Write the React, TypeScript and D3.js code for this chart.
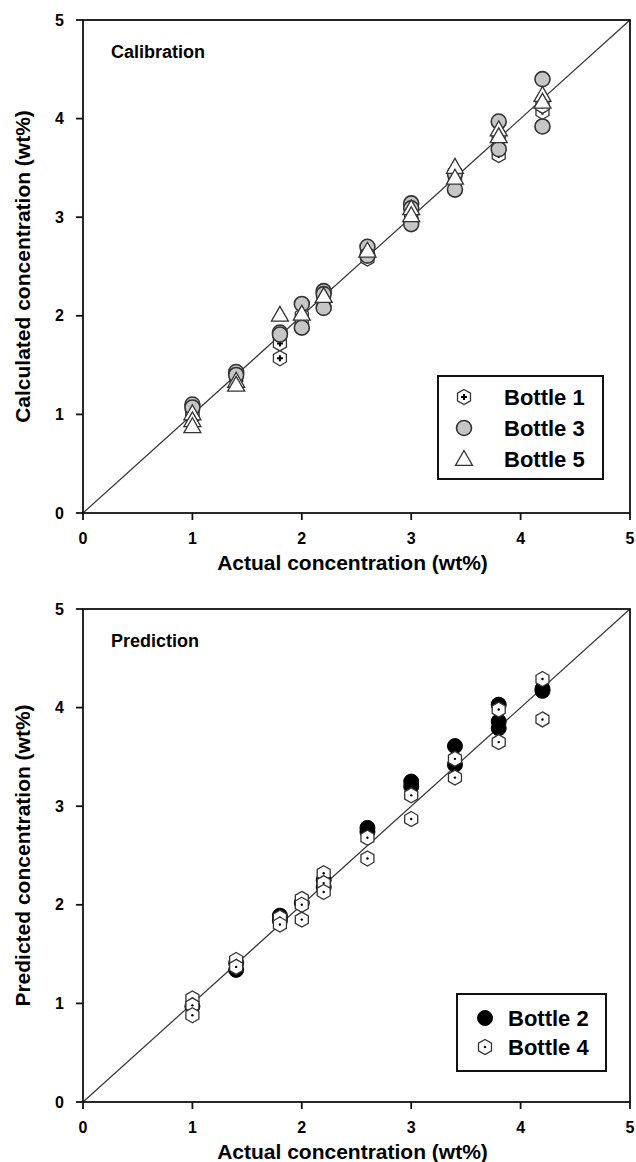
import React from 'react';
import * as d3 from 'd3';

// actual concentrations (wt%) shared by all bottles
const ACTUAL = [1.0, 1.4, 1.8, 2.0, 2.2, 2.6, 3.0, 3.4, 3.8, 4.2];
const TICKS = [0, 1, 2, 3, 4, 5];

// calibration set, calculated values per actual concentration
const bottle1 = [[1.02, 0.98], [1.40, 1.37], [1.72, 1.57], [2.00, 1.95], [2.20, 2.15], [2.58, 2.62], [3.00, 2.96], [3.45, 3.38], [3.81, 3.63], [4.07, 4.13]];
const bottle3 = [[1.10, 1.07], [1.43, 1.40], [1.83, 1.81], [2.12, 1.88], [2.25, 2.22, 2.08], [2.70, 2.61], [3.14, 3.09, 2.93], [3.44, 3.28], [3.97, 3.69], [4.40, 3.92]];
const bottle5 = [[1.01, 0.94, 0.88], [1.34, 1.30], [2.01], [2.02], [2.20], [2.66], [3.09, 3.02], [3.51, 3.40], [3.89, 3.82], [4.24, 4.17]];

// prediction set
const bottle2 = [[0.97], [1.41, 1.34], [1.89, 1.84], [2.02], [2.25, 2.18], [2.78, 2.74], [3.25, 3.20], [3.61, 3.42], [4.03, 3.86, 3.79], [4.19, 4.17]];
const bottle4 = [[1.05, 0.98, 0.88], [1.44, 1.37], [1.87, 1.80], [2.06, 2.00, 1.85], [2.32, 2.22, 2.13], [2.68, 2.47], [3.11, 2.87], [3.48, 3.29], [3.98, 3.65], [4.29, 3.88]];

const FONT = '"Liberation Sans", Arial, sans-serif';
const W = 636;
const H = 1162;
const LEFT = 83;
const RIGHT = 630;

type Kind = 'hexPlus' | 'grayCircle' | 'triangle' | 'blackCircle' | 'hexDot';

const hexPath = (r: number) => {
  const pts = d3.range(6).map(i => {
    const a = -Math.PI / 2 + (i * Math.PI) / 3;
    return [r * Math.cos(a), r * Math.sin(a)];
  });
  return 'M' + pts.map(p => p.join(',')).join('L') + 'Z';
};

const Marker = ({ kind, x, y }: { kind: Kind; x: number; y: number }) => {
  const t = `translate(${x},${y})`;
  if (kind === 'grayCircle') return <circle transform={t} r={7.5} fill="#c6c6c6" stroke="#333" strokeWidth={1.6} />;
  if (kind === 'blackCircle') return <circle transform={t} r={7.5} fill="#000" stroke="#000" strokeWidth={1} />;
  if (kind === 'triangle') {
    const s = 8.5;
    return <path transform={t} d={`M0,${-s}L${s},${s * 0.75}L${-s},${s * 0.75}Z`} fill="#fff" stroke="#333" strokeWidth={1.3} />;
  }
  if (kind === 'hexPlus') {
    return (
      <g transform={t}>
        <path d={hexPath(7.5)} fill="#fff" stroke="#333" strokeWidth={1.3} />
        <path d="M-3,0H3M0,-3V3" stroke="#000" strokeWidth={2} />
      </g>
    );
  }
  return (
    <g transform={t}>
      <path d={hexPath(7.5)} fill="#fff" stroke="#333" strokeWidth={1.3} />
      <circle r={1.2} fill="#000" />
    </g>
  );
};

type Series = { name: string; kind: Kind; values: number[][] };

const Panel = ({ top, bottom, title, yLabel, series, legend }: {
  top: number; bottom: number; title: string; yLabel: string; series: Series[];
  legend: { x0: number; x1: number; y0: number; y1: number; symX: number; textX: number; rows: number[] };
}) => {
  const x = d3.scaleLinear().domain([0, 5]).range([LEFT, RIGHT]);
  const y = d3.scaleLinear().domain([0, 5]).range([bottom, top]);
  const mid = (top + bottom) / 2;
  return (
    <g>
      <line x1={x(0)} y1={y(0)} x2={x(5)} y2={y(5)} stroke="#333" strokeWidth={1.2} />
      {series.map(s => (
        <g key={s.name}>
          {s.values.flatMap((vals, i) => vals.map((v, j) => (
            <Marker key={`${i}-${j}`} kind={s.kind} x={x(ACTUAL[i])} y={y(v)} />
          )))}
        </g>
      ))}
      <rect x={LEFT} y={top} width={RIGHT - LEFT} height={bottom - top} fill="none" stroke="#111" strokeWidth={1.8} />
      {TICKS.map(t => (
        <g key={t}>
          <line x1={x(t)} x2={x(t)} y1={bottom} y2={bottom + 7} stroke="#111" strokeWidth={1.8} />
          <text x={x(t)} y={bottom + 25} textAnchor="middle" dominantBaseline="central" fontSize={16} fontWeight="bold">{t}</text>
          <line x1={LEFT - 7} x2={LEFT} y1={y(t)} y2={y(t)} stroke="#111" strokeWidth={1.8} />
          <text x={LEFT - 19} y={y(t)} textAnchor="end" dominantBaseline="central" fontSize={16} fontWeight="bold">{t}</text>
        </g>
      ))}
      <text x={(LEFT + RIGHT) / 2 - 4} y={bottom + 49} textAnchor="middle" dominantBaseline="central" fontSize={21} fontWeight="bold">
        Actual concentration (wt%)
      </text>
      <text transform={`translate(22,${mid}) rotate(-90)`} textAnchor="middle" dominantBaseline="central" fontSize={21} fontWeight="bold">
        {yLabel}
      </text>
      <text x={111} y={top + 32} dominantBaseline="central" fontSize={18} fontWeight="bold">{title}</text>
      <rect x={legend.x0} y={legend.y0} width={legend.x1 - legend.x0} height={legend.y1 - legend.y0} fill="#fff" stroke="#111" strokeWidth={2} />
      {series.map((s, i) => (
        <g key={s.name}>
          <Marker kind={s.kind} x={legend.symX} y={legend.rows[i]} />
          <text x={legend.textX} y={legend.rows[i]} dominantBaseline="central" fontSize={22} fontWeight="bold">{s.name}</text>
        </g>
      ))}
    </g>
  );
};

export default function App() {
  return (
    <div style={{ position: 'absolute', left: 0, top: 0 }}>
      <svg width={W} height={H} fontFamily={FONT} style={{ display: 'block', background: '#fff' }}>
        <Panel
          top={20}
          bottom={513}
          title="Calibration"
          yLabel="Calculated concentration (wt%)"
          series={[
            { name: 'Bottle 1', kind: 'hexPlus', values: bottle1 },
            { name: 'Bottle 3', kind: 'grayCircle', values: bottle3 },
            { name: 'Bottle 5', kind: 'triangle', values: bottle5 },
          ]}
          legend={{ x0: 438, x1: 603, y0: 376, y1: 479, symX: 464, textX: 504, rows: [397, 428, 459] }}
        />
        <Panel
          top={609}
          bottom={1102}
          title="Prediction"
          yLabel="Predicted concentration (wt%)"
          series={[
            { name: 'Bottle 2', kind: 'blackCircle', values: bottle2 },
            { name: 'Bottle 4', kind: 'hexDot', values: bottle4 },
          ]}
          legend={{ x0: 457, x1: 606, y0: 994, y1: 1071, symX: 485, textX: 508, rows: [1018, 1047] }}
        />
      </svg>
    </div>
  );
}
